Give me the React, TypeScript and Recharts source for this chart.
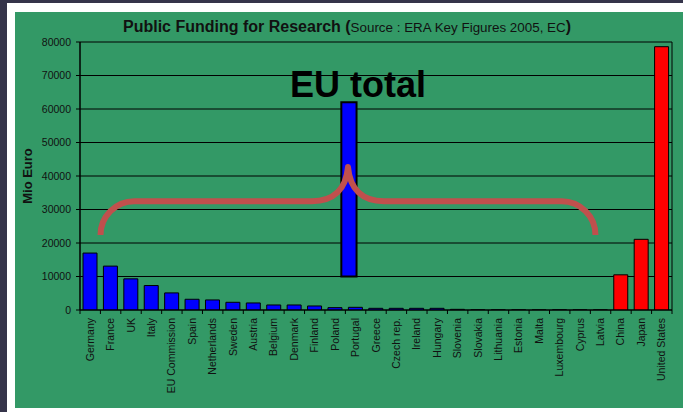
import React from 'react';
import { ComposedChart, Bar, XAxis, YAxis, CartesianGrid, Cell, ReferenceArea } from 'recharts';

const categories = ['Germany', 'France', 'UK', 'Italy', 'EU Commission', 'Spain', 'Netherlands', 'Sweden', 'Austria', 'Belgium', 'Denmark', 'Finland', 'Poland', 'Portugal', 'Greece', 'Czech rep.', 'Ireland', 'Hungary', 'Slovenia', 'Slovakia', 'Lithuania', 'Estonia', 'Malta', 'Luxembourg', 'Cyprus', 'Latvia', 'China', 'Japan', 'United States'];
const funding = [17000, 13100, 9300, 7300, 5100, 3200, 3000, 2300, 2100, 1500, 1500, 1200, 700, 800, 500, 500, 500, 500, 200, 60, 40, 30, 10, 60, 30, 20, 10500, 21100, 78600];
const groups = ['EU', 'EU', 'EU', 'EU', 'EU', 'EU', 'EU', 'EU', 'EU', 'EU', 'EU', 'EU', 'EU', 'EU', 'EU', 'EU', 'EU', 'EU', 'EU', 'EU', 'EU', 'EU', 'EU', 'EU', 'EU', 'EU', 'Other', 'Other', 'Other'];
const yTicks = [0, 10000, 20000, 30000, 40000, 50000, 60000, 70000, 80000];
const euTotalRange = [10000, 62000];
const braceLevels = [22400, 32500, 42700];

const data = categories.map((name, i) => ({ name, value: funding[i], group: groups[i] }));

const FONT = '"Liberation Sans", Arial, Helvetica, sans-serif';
const GREEN = '#339966';

const CatTick = (props: any) => {
  const { x, y, payload, index, width } = props;
  const half = payload && payload.offset ? payload.offset : (width || 592) / categories.length / 2;
  const axisY = y - 8;
  return (
    <g>
      <line x1={x - half} y1={axisY} x2={x - half} y2={axisY + 4} stroke="#000" strokeWidth={1} />
      {index === categories.length - 1 && (
        <line x1={x + half} y1={axisY} x2={x + half} y2={axisY + 4} stroke="#000" strokeWidth={1} />
      )}
      <text
        transform={`translate(${x + 3.5},${y}) rotate(-90)`}
        textAnchor="end"
        fontSize={10.5}
        fontFamily={FONT}
        fill="#111"
      >
        {payload.value}
      </text>
    </g>
  );
};

const YLabel = (props: any) => {
  const vb = props.viewBox || { x: 0, y: 42, width: 80, height: 268 };
  const cx = vb.x + 27.5;
  const cy = vb.y + vb.height / 2;
  return (
    <text
      transform={`translate(${cx + 4.5},${cy}) rotate(-90)`}
      textAnchor="middle"
      fontSize={13}
      fontWeight="bold"
      fontFamily={FONT}
      fill="#111"
    >
      Mio Euro
    </text>
  );
};

const EuLabel = (props: any) => {
  const vb = props.viewBox;
  if (!vb) return null;
  return (
    <text
      x={vb.x + vb.width / 2 + 9}
      y={vb.y - 5.5}
      textAnchor="middle"
      fontSize={36}
      fontWeight="bold"
      fontFamily={FONT}
      fill="#000"
    >
      EU total
    </text>
  );
};

const Brace = (props: any) => {
  const { x, y, width, height } = props;
  if ([x, y, width, height].some((v) => typeof v !== 'number' || isNaN(v))) return null;
  const L = x;
  const R = x + width;
  const T = y;
  const B = y + height;
  const H = y + (height * (braceLevels[2] - braceLevels[1])) / (braceLevels[2] - braceLevels[0]);
  const r = B - H;
  const C = x + width / 2;
  const d = [
    `M ${L} ${B}`,
    `A ${r} ${r} 0 0 1 ${L + r} ${H}`,
    `L ${C - 36} ${H}`,
    `C ${C - 14} ${H} ${C - 2} ${H - 12} ${C} ${T}`,
    `C ${C + 2} ${H - 12} ${C + 14} ${H} ${C + 36} ${H}`,
    `L ${R - r} ${H}`,
    `A ${r} ${r} 0 0 1 ${R} ${B}`,
  ].join(' ');
  return <path d={d} fill="none" stroke="#C0504D" strokeWidth={6} strokeLinejoin="round" />;
};

export default function App() {
  return (
    <div style={{ position: 'fixed', left: 0, top: 0, width: 683, height: 412, background: '#35344A', overflow: 'hidden' }}>
      <div style={{ position: 'absolute', left: 7, top: 3, width: 676, height: 409, background: '#FFFFFF' }} />
      <div style={{ position: 'absolute', left: 15, top: 12, width: 668, height: 396, background: GREEN }} />
      <div
        style={{
          position: 'absolute',
          left: 123,
          top: 18,
          whiteSpace: 'nowrap',
          fontFamily: FONT,
          color: '#111',
          lineHeight: '18px',
        }}
      >
        <span style={{ fontSize: 16, fontWeight: 'bold' }}>Public Funding for Research (</span>
        <span style={{ fontSize: 13.4 }}>Source : ERA Key Figures 2005, EC</span>
        <span style={{ fontSize: 16, fontWeight: 'bold' }}>)</span>
      </div>
      <div style={{ position: 'absolute', left: 0, top: 0 }}>
        <ComposedChart
          width={683}
          height={412}
          data={data}
          margin={{ top: 42, right: 11, bottom: 0, left: 0 }}
          barSize={14}
        >
          <CartesianGrid
            xAxisId="cat"
            stroke="#000"
            strokeWidth={1}
            vertical={true}
            verticalCoordinatesGenerator={({ offset }: any) => [offset.left + offset.width]}
          />
          <XAxis
            xAxisId="cat"
            dataKey="name"
            type="category"
            interval={0}
            height={102}
            tickLine={false}
            tickSize={4}
            tickMargin={4}
            axisLine={{ stroke: '#000', strokeWidth: 1 }}
            tick={<CatTick />}
          />
          <XAxis xAxisId="pos" type="number" domain={[0, 28]} hide allowDataOverflow />
          <YAxis
            width={80}
            domain={[0, 80000]}
            ticks={yTicks}
            interval={0}
            allowDataOverflow
            tickSize={4}
            tickMargin={5}
            axisLine={{ stroke: '#000', strokeWidth: 1.5 }}
            tickLine={{ stroke: '#000' }}
            tick={{ fontSize: 10.5, fill: '#111', fontFamily: FONT }}
            label={(p: any) => <YLabel {...p} />}
          />
          <Bar xAxisId="cat" dataKey="value" stroke="#000" strokeWidth={1} isAnimationActive={false}>
            {data.map((d, i) => (
              <Cell key={i} fill={d.group === 'EU' ? '#0000FF' : '#FF0000'} />
            ))}
          </Bar>
          <ReferenceArea
            xAxisId="pos"
            x1={12.36}
            x2={13.08}
            y1={euTotalRange[0]}
            y2={euTotalRange[1]}
            fill="#0000FF"
            fillOpacity={1}
            stroke="#000"
            strokeWidth={2}
            ifOverflow="visible"
            label={(p: any) => <EuLabel {...p} />}
          />
          <ReferenceArea
            xAxisId="pos"
            x1={0.97}
            x2={24.38}
            y1={braceLevels[0]}
            y2={braceLevels[2]}
            ifOverflow="visible"
            shape={(p: any) => <Brace {...p} />}
          />
        </ComposedChart>
      </div>
    </div>
  );
}
